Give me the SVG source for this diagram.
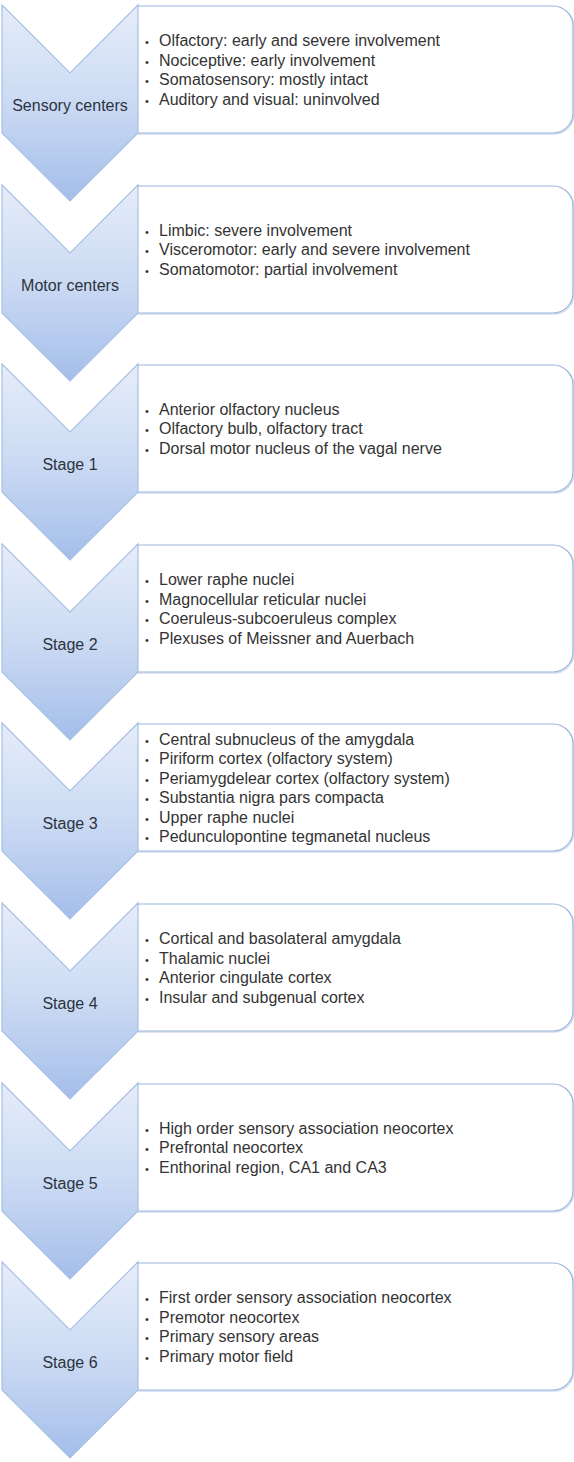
<svg xmlns="http://www.w3.org/2000/svg" width="574" height="1462" viewBox="0 0 574 1462">
<defs>
<linearGradient id="g" x1="0" y1="0" x2="0" y2="1">
<stop offset="0" stop-color="#e6edf9"/>
<stop offset="0.5" stop-color="#cbdaf3"/>
<stop offset="1" stop-color="#a4beea"/>
</linearGradient>
<style>
.chev{fill:url(#g);stroke:#a8bfe5;stroke-width:1.2}
.box{fill:#fff;stroke:#9bb4dc;stroke-width:1.2}
.sh{fill:none;stroke:#d3deee;stroke-width:1.5}
.lab{font-family:"Liberation Sans",Arial,sans-serif;font-size:16px;fill:#2c3340;text-anchor:middle}
.t{font-family:"Liberation Sans",Arial,sans-serif;font-size:16px;fill:#333}
.b{font-size:11px}
</style>
</defs>
<rect width="574" height="1462" fill="#fff"/>

<g id="sensory">
<path class="sh" d="M553,7 A20,20 0 0 1 574,28 V114 A20,20 0 0 1 554,134 H138"/>
<path class="box" d="M137,6 H553 A20,20 0 0 1 573,26 V113 A20,20 0 0 1 553,133 H137 Z"/>
<polygon class="chev" points="2,5 70,73 138,5 138,133 70,201 2,133"/>
<text class="lab" x="70" y="110.7">Sensory centers</text>
<text class="t" y="46"><tspan x="145" class="b">•</tspan><tspan x="159">Olfactory: early and severe involvement</tspan></text>
<text class="t" y="65.5"><tspan x="145" class="b">•</tspan><tspan x="159">Nociceptive: early involvement</tspan></text>
<text class="t" y="85"><tspan x="145" class="b">•</tspan><tspan x="159">Somatosensory: mostly intact</tspan></text>
<text class="t" y="104.5"><tspan x="145" class="b">•</tspan><tspan x="159">Auditory and visual: uninvolved</tspan></text>
</g>

<g id="motor">
<path class="sh" d="M553,187 A20,20 0 0 1 574,208 V294 A20,20 0 0 1 554,314 H138"/>
<path class="box" d="M137,186 H553 A20,20 0 0 1 573,206 V293 A20,20 0 0 1 553,313 H137 Z"/>
<polygon class="chev" points="2,185 70,253 138,185 138,313 70,381 2,313"/>
<text class="lab" x="70" y="290.7">Motor centers</text>
<text class="t" y="235.7"><tspan x="145" class="b">•</tspan><tspan x="159">Limbic: severe involvement</tspan></text>
<text class="t" y="255.2"><tspan x="145" class="b">•</tspan><tspan x="159">Visceromotor: early and severe involvement</tspan></text>
<text class="t" y="274.7"><tspan x="145" class="b">•</tspan><tspan x="159">Somatomotor: partial involvement</tspan></text>
</g>

<g id="stage1">
<path class="sh" d="M553,366 A20,20 0 0 1 574,387 V473 A20,20 0 0 1 554,493 H138"/>
<path class="box" d="M137,365 H553 A20,20 0 0 1 573,385 V472 A20,20 0 0 1 553,492 H137 Z"/>
<polygon class="chev" points="2,364 70,432 138,364 138,492 70,560 2,492"/>
<text class="lab" x="70" y="469.7">Stage 1</text>
<text class="t" y="414.7"><tspan x="145" class="b">•</tspan><tspan x="159">Anterior olfactory nucleus</tspan></text>
<text class="t" y="434.2"><tspan x="145" class="b">•</tspan><tspan x="159">Olfactory bulb, olfactory tract</tspan></text>
<text class="t" y="453.7"><tspan x="145" class="b">•</tspan><tspan x="159">Dorsal motor nucleus of the vagal nerve</tspan></text>
</g>

<g id="stage2">
<path class="sh" d="M553,546 A20,20 0 0 1 574,567 V653 A20,20 0 0 1 554,673 H138"/>
<path class="box" d="M137,545 H553 A20,20 0 0 1 573,565 V652 A20,20 0 0 1 553,672 H137 Z"/>
<polygon class="chev" points="2,544 70,612 138,544 138,672 70,740 2,672"/>
<text class="lab" x="70" y="649.7">Stage 2</text>
<text class="t" y="585"><tspan x="145" class="b">•</tspan><tspan x="159">Lower raphe nuclei</tspan></text>
<text class="t" y="604.5"><tspan x="145" class="b">•</tspan><tspan x="159">Magnocellular reticular nuclei</tspan></text>
<text class="t" y="624"><tspan x="145" class="b">•</tspan><tspan x="159">Coeruleus-subcoeruleus complex</tspan></text>
<text class="t" y="643.5"><tspan x="145" class="b">•</tspan><tspan x="159">Plexuses of Meissner and Auerbach</tspan></text>
</g>

<g id="stage3">
<path class="sh" d="M553,725 A20,20 0 0 1 574,746 V832 A20,20 0 0 1 554,852 H138"/>
<path class="box" d="M137,724 H553 A20,20 0 0 1 573,744 V831 A20,20 0 0 1 553,851 H137 Z"/>
<polygon class="chev" points="2,723 70,791 138,723 138,851 70,919 2,851"/>
<text class="lab" x="70" y="828.7">Stage 3</text>
<text class="t" y="744.5"><tspan x="145" class="b">•</tspan><tspan x="159">Central subnucleus of the amygdala</tspan></text>
<text class="t" y="764"><tspan x="145" class="b">•</tspan><tspan x="159">Piriform cortex (olfactory system)</tspan></text>
<text class="t" y="783.5"><tspan x="145" class="b">•</tspan><tspan x="159">Periamygdelear cortex (olfactory system)</tspan></text>
<text class="t" y="803"><tspan x="145" class="b">•</tspan><tspan x="159">Substantia nigra pars compacta</tspan></text>
<text class="t" y="822.5"><tspan x="145" class="b">•</tspan><tspan x="159">Upper raphe nuclei</tspan></text>
<text class="t" y="842"><tspan x="145" class="b">•</tspan><tspan x="159">Pedunculopontine tegmanetal nucleus</tspan></text>
</g>

<g id="stage4">
<path class="sh" d="M553,905 A20,20 0 0 1 574,926 V1012 A20,20 0 0 1 554,1032 H138"/>
<path class="box" d="M137,904 H553 A20,20 0 0 1 573,924 V1011 A20,20 0 0 1 553,1031 H137 Z"/>
<polygon class="chev" points="2,903 70,971 138,903 138,1031 70,1099 2,1031"/>
<text class="lab" x="70" y="1008.7">Stage 4</text>
<text class="t" y="944"><tspan x="145" class="b">•</tspan><tspan x="159">Cortical and basolateral amygdala</tspan></text>
<text class="t" y="963.5"><tspan x="145" class="b">•</tspan><tspan x="159">Thalamic nuclei</tspan></text>
<text class="t" y="983"><tspan x="145" class="b">•</tspan><tspan x="159">Anterior cingulate cortex</tspan></text>
<text class="t" y="1002.5"><tspan x="145" class="b">•</tspan><tspan x="159">Insular and subgenual cortex</tspan></text>
</g>

<g id="stage5">
<path class="sh" d="M553,1085 A20,20 0 0 1 574,1106 V1192 A20,20 0 0 1 554,1212 H138"/>
<path class="box" d="M137,1084 H553 A20,20 0 0 1 573,1104 V1191 A20,20 0 0 1 553,1211 H137 Z"/>
<polygon class="chev" points="2,1083 70,1151 138,1083 138,1211 70,1279 2,1211"/>
<text class="lab" x="70" y="1188.7">Stage 5</text>
<text class="t" y="1133.7"><tspan x="145" class="b">•</tspan><tspan x="159">High order sensory association neocortex</tspan></text>
<text class="t" y="1153.2"><tspan x="145" class="b">•</tspan><tspan x="159">Prefrontal neocortex</tspan></text>
<text class="t" y="1172.7"><tspan x="145" class="b">•</tspan><tspan x="159">Enthorinal region, CA1 and CA3</tspan></text>
</g>

<g id="stage6">
<path class="sh" d="M553,1264 A20,20 0 0 1 574,1285 V1371 A20,20 0 0 1 554,1391 H138"/>
<path class="box" d="M137,1263 H553 A20,20 0 0 1 573,1283 V1370 A20,20 0 0 1 553,1390 H137 Z"/>
<polygon class="chev" points="2,1262 70,1330 138,1262 138,1390 70,1458 2,1390"/>
<text class="lab" x="70" y="1367.7">Stage 6</text>
<text class="t" y="1303"><tspan x="145" class="b">•</tspan><tspan x="159">First order sensory association neocortex</tspan></text>
<text class="t" y="1322.5"><tspan x="145" class="b">•</tspan><tspan x="159">Premotor neocortex</tspan></text>
<text class="t" y="1342"><tspan x="145" class="b">•</tspan><tspan x="159">Primary sensory areas</tspan></text>
<text class="t" y="1361.5"><tspan x="145" class="b">•</tspan><tspan x="159">Primary motor field</tspan></text>
</g>
</svg>
